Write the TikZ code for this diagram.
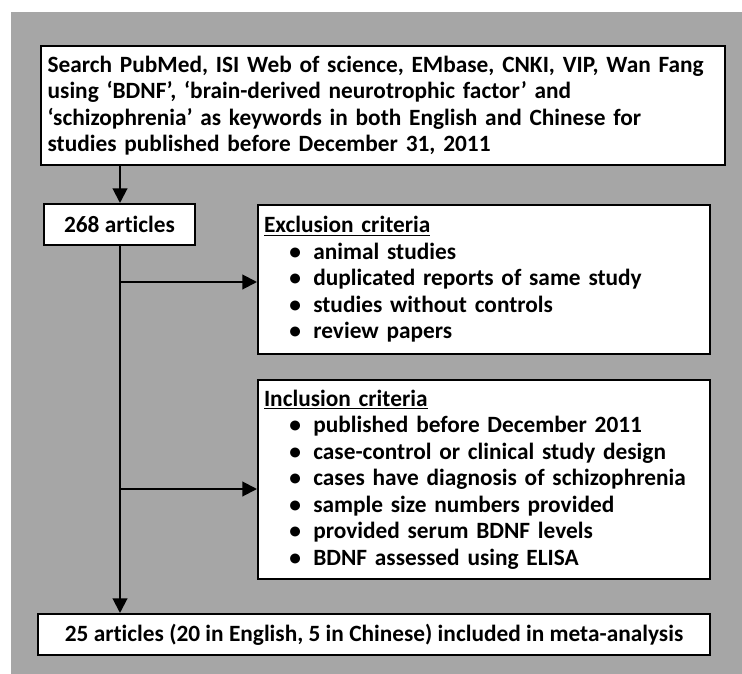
\documentclass[tikz,border=0pt]{standalone}
\usepackage{fontspec}
\setmainfont{Carlito}[Ligatures={NoCommon, TeX}]
\usetikzlibrary{arrows.meta}
\definecolor{bggray}{RGB}{166,166,166}
\newcommand{\critem}[1]{\\\hspace*{19pt}\makebox[18pt][l]{\textbullet}#1}

\begin{document}
\begin{tikzpicture}[x=0.75pt, y=-0.75pt,
  every node/.style={draw=black, line width=1.5pt, fill=white, anchor=north west,
    font=\fontsize{17.5}{19.9}\selectfont\bfseries, inner ysep=0pt},
  arr/.style={draw, line width=1.5pt, ->, >={Triangle[length=11pt, width=11pt]}}]
\useasboundingbox (0,0) rectangle (742,674);
\fill[bggray] (11,12) rectangle (742,674);
\node (Search) at (40,45) [minimum width=513pt, minimum height=89.25pt, inner xsep=5pt,
  text width=503pt, align=left]
  {Search PubMed, ISI Web of science, EMbase, CNKI, VIP, Wan Fang\\
   using ‘BDNF’, ‘brain-derived neurotrophic factor’ and\\
   ‘schizophrenia’ as keywords in both English and Chinese for\\
   studies published before December 31, 2011};
\node (Art) at (43,203) [minimum width=113.25pt, minimum height=30.75pt] {268 articles};
\node (Excl) at (257,204) [minimum width=339pt, minimum height=111.75pt, inner xsep=4.5pt,
  text width=330pt, align=left]
  {\underline{Exclusion criteria}
   \critem{animal studies}
   \critem{duplicated reports of same study}
   \critem{studies without controls}
   \critem{review papers}};
\node (Incl) at (257,379) [minimum width=339pt, minimum height=149.25pt, inner xsep=4.5pt,
  text width=330pt, align=left]
  {\underline{Inclusion criteria}
   \critem{published before December 2011}
   \critem{case-control or clinical study design}
   \critem{cases have diagnosis of schizophrenia}
   \critem{sample size numbers provided}
   \critem{provided serum BDNF levels}
   \critem{BDNF assessed using ELISA}};
\node (Meta) at (37,613) [minimum width=504pt, minimum height=30.75pt]
  {25 articles (20 in English, 5 in Chinese) included in meta-analysis};
% junctions on the main line
\coordinate (J1) at (120,282);
\coordinate (J2) at (120,489);
\draw[arr] (Search.south -| J1) -- (Art.north -| J1);
\draw[arr] (Art.south -| J1) -- (Meta.north -| J1);
\draw[arr] (J1) -- (J1 -| Excl.west);
\draw[arr] (J2) -- (J2 -| Incl.west);
\end{tikzpicture}
\end{document}
